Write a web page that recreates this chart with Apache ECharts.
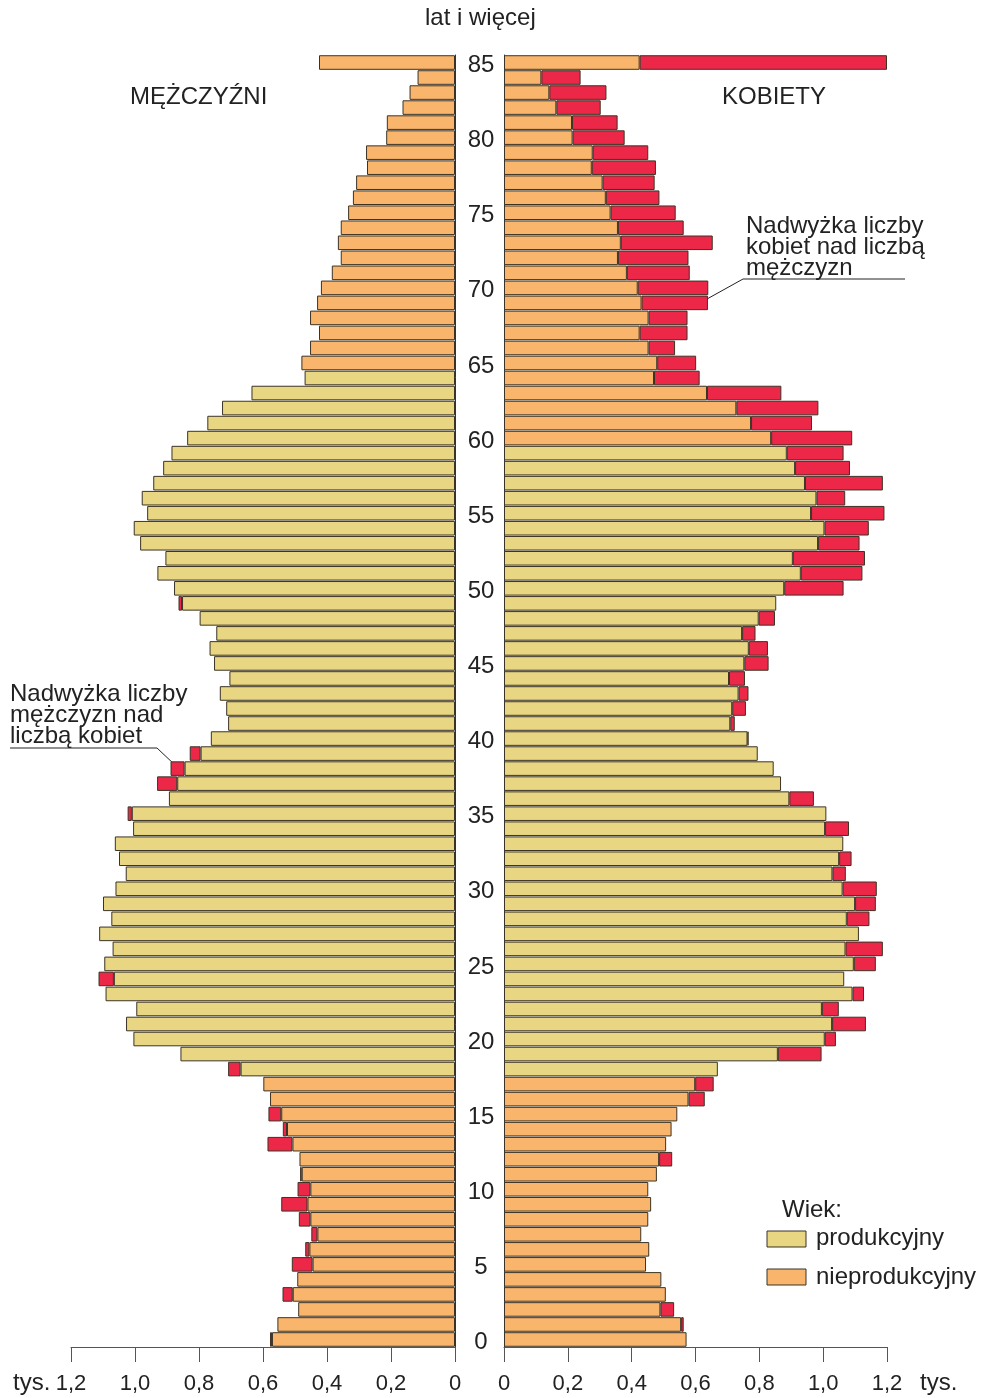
<!DOCTYPE html>
<html>
<head>
<meta charset="utf-8">
<title>Piramida wieku</title>
<script src="https://cdn.jsdelivr.net/npm/echarts@6/dist/echarts.min.js"></script>
<style>
  html, body { margin: 0; padding: 0; background: #fff; }
  #chart { width: 982px; height: 1398px; }
</style>
</head>
<body>
<div id="chart"></div>
<script>
// wiek 0 .. 85 (85 = 85 lat i więcej)
var ages = [];
for (var i = 0; i <= 85; i++) ages.push(String(i));

// liczba mężczyzn (tys.), od wieku 0
var men = [
  0.578, 0.555, 0.490, 0.539, 0.493, 0.510, 0.468, 0.449, 0.488, 0.543,
  0.492, 0.484, 0.486, 0.586, 0.538, 0.583, 0.578, 0.599, 0.709, 0.858,
  1.005, 1.028, 0.996, 1.092, 1.114, 1.096, 1.070, 1.112, 1.074, 1.100,
  1.061, 1.029, 1.050, 1.063, 1.006, 1.023, 0.894, 0.931, 0.889, 0.829,
  0.763, 0.709, 0.715, 0.735, 0.705, 0.753, 0.767, 0.746, 0.798, 0.864,
  0.878, 0.930, 0.905, 0.984, 1.004, 0.962, 0.979, 0.943, 0.912, 0.886,
  0.837, 0.774, 0.728, 0.636, 0.470, 0.480, 0.453, 0.425, 0.453, 0.431,
  0.419, 0.385, 0.357, 0.366, 0.357, 0.334, 0.319, 0.309, 0.275, 0.278,
  0.215, 0.213, 0.164, 0.142, 0.117, 0.425
];

// liczba kobiet (tys.), od wieku 0
var women = [
  0.572, 0.563, 0.533, 0.507, 0.493, 0.445, 0.455, 0.430, 0.452, 0.461,
  0.452, 0.479, 0.527, 0.508, 0.525, 0.543, 0.629, 0.657, 0.670, 0.995,
  1.040, 1.134, 1.049, 1.128, 1.066, 1.165, 1.187, 1.112, 1.145, 1.165,
  1.168, 1.071, 1.089, 1.063, 1.081, 1.010, 0.971, 0.868, 0.845, 0.795,
  0.766, 0.723, 0.758, 0.766, 0.755, 0.829, 0.827, 0.788, 0.849, 0.853,
  1.064, 1.123, 1.131, 1.114, 1.143, 1.192, 1.069, 1.187, 1.084, 1.064,
  1.091, 0.965, 0.985, 0.869, 0.613, 0.602, 0.536, 0.575, 0.575, 0.639,
  0.640, 0.582, 0.578, 0.654, 0.563, 0.538, 0.487, 0.472, 0.476, 0.452,
  0.378, 0.356, 0.303, 0.321, 0.240, 1.200
];

// wiek produkcyjny
var prodMen = [18, 64];
var prodWomen = [18, 59];

var C_PROD = '#E8D682';
var C_NPROD = '#F9B56C';
var C_RED = '#EC2748';
var C_EDGE = '#3b3326';
var FONT = '"Liberation Sans", Arial, sans-serif';

// wspólna część i nadwyżka
var common = [], extraM = [], extraW = [];
for (var k = 0; k < men.length; k++) {
    common.push(Math.min(men[k], women[k]));
    extraM.push(men[k] > women[k] ? +(men[k] - women[k]).toFixed(3) : null);
    extraW.push(women[k] > men[k] ? +(women[k] - men[k]).toFixed(3) : null);
}

function ageColor(range) {
    return function(p) {
        return (p.dataIndex >= range[0] && p.dataIndex <= range[1]) ? C_PROD : C_NPROD;
    };
}

function fmt(v) {
    return v === 0 ? '0' : v.toFixed(1).replace('.', ',');
}

var gridTop = 55, gridBottom = 51;

function xAxisOpt(idx, inverse) {
    return {
        gridIndex: idx,
        type: 'value',
        inverse: inverse,
        min: 0,
        max: 1.2,
        interval: 0.2,
        axisLine: { show: true, lineStyle: { color: '#555', width: 1 } },
        axisTick: { show: true, length: 15, lineStyle: { color: '#555' } },
        splitLine: { show: false },
        axisLabel: {
            margin: 26,
            fontFamily: FONT,
            fontSize: 22,
            color: '#222',
            formatter: fmt
        }
    };
}

function bar(name, x, y, stack, data, color) {
    return {
        type: 'bar',
        name: name,
        xAxisIndex: x,
        yAxisIndex: y,
        stack: stack,
        data: data,
        silent: true,
        barCategoryGap: '3%',
        itemStyle: { color: color, borderColor: C_EDGE, borderWidth: 1 }
    };
}

function txt(x, y, s, size, extra) {
    var st = { text: s, font: size + 'px ' + FONT, fill: '#222' };
    if (extra) for (var key in extra) st[key] = extra[key];
    return { type: 'text', left: x, top: y, style: st };
}

var option = {
    backgroundColor: '#fff',
    animation: false,
    grid: [
        { left: 71, right: 982 - 455, top: gridTop, bottom: gridBottom },
        { left: 504, right: 982 - 887, top: gridTop, bottom: gridBottom }
    ],
    xAxis: [ xAxisOpt(0, true), xAxisOpt(1, false) ],
    yAxis: [
        {
            gridIndex: 0,
            type: 'category',
            data: ages,
            position: 'right',
            axisLine: { show: true, lineStyle: { color: '#333' } },
            axisTick: { show: false },
            axisLabel: { show: false }
        },
        {
            gridIndex: 1,
            type: 'category',
            data: ages,
            position: 'left',
            axisLine: { show: true, lineStyle: { color: '#333' } },
            axisTick: { show: false },
            axisLabel: {
                show: true,
                interval: function(i) { return i % 5 === 0; },
                margin: 23,
                align: 'center',
                verticalAlign: 'top',
                lineHeight: 24,
                padding: [-9, 0, 0, 0],
                fontFamily: FONT,
                fontSize: 24,
                color: '#222'
            }
        }
    ],
    series: [
        bar('mężczyźni', 0, 0, 'm', common, ageColor(prodMen)),
        bar('nadwyżka mężczyzn', 0, 0, 'm', extraM, C_RED),
        bar('kobiety', 1, 1, 'w', common, ageColor(prodWomen)),
        bar('nadwyżka kobiet', 1, 1, 'w', extraW, C_RED)
    ],
    graphic: [
        txt(425, 6, 'lat i więcej', 24),
        txt(130, 85, 'MĘŻCZYŹNI', 24),
        txt(722, 85, 'KOBIETY', 24),
        txt(13, 1371, 'tys.', 24),
        txt(920, 1371, 'tys.', 24),

        // adnotacja - kobiety
        txt(746, 214, 'Nadwyżka liczby\nkobiet nad liczbą\nmężczyzn', 24, { lineHeight: 21 }),
        { type: 'polyline', shape: { points: [[905, 279], [743, 279], [707, 299]] }, style: { stroke: '#222', lineWidth: 1, fill: null } },

        // adnotacja - mężczyźni
        txt(10, 682, 'Nadwyżka liczby\nmężczyzn nad\nliczbą kobiet', 24, { lineHeight: 21 }),
        { type: 'polyline', shape: { points: [[10, 748], [157, 748], [175, 765]] }, style: { stroke: '#222', lineWidth: 1, fill: null } },

        // legenda
        txt(782, 1198, 'Wiek:', 24),
        { type: 'rect', shape: { x: 767, y: 1231, width: 39, height: 16 }, style: { fill: C_PROD, stroke: C_EDGE, lineWidth: 1 } },
        txt(816, 1226, 'produkcyjny', 24),
        { type: 'rect', shape: { x: 767, y: 1269, width: 39, height: 16 }, style: { fill: C_NPROD, stroke: C_EDGE, lineWidth: 1 } },
        txt(816, 1265, 'nieprodukcyjny', 24)
    ]
};

var chart = echarts.init(document.getElementById('chart'), null, { renderer: 'canvas' });
chart.setOption(option);
</script>
</body>
</html>
